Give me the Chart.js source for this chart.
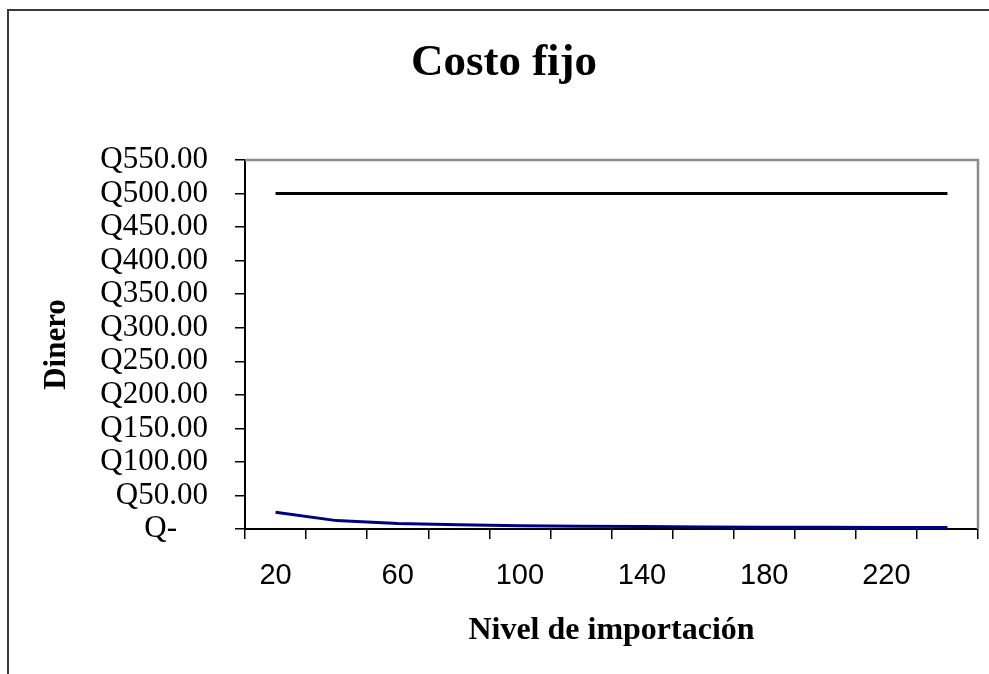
<!DOCTYPE html>
<html>
<head>
<meta charset="utf-8">
<title>Costo fijo</title>
<script src="https://cdn.jsdelivr.net/npm/chart.js@4/dist/chart.umd.min.js"></script>
<style>
  html, body { margin: 0; padding: 0; overflow: hidden; background: #fff; width: 989px; height: 674px; }
  #marco { position: absolute; left: 7px; top: 9px; border-left: 2px solid #3a3a3a; border-top: 2px solid #3a3a3a; }
  canvas { display: block; }
</style>
</head>
<body>
<div id="marco"><canvas id="grafica" width="990" height="680"></canvas></div>
<script>
// Niveles de importación (eje X)
const niveles = [20, 40, 60, 80, 100, 120, 140, 160, 180, 200, 220, 240];
// Costo fijo total
const costoFijo = [500, 500, 500, 500, 500, 500, 500, 500, 500, 500, 500, 500];
// Costo fijo por unidad
const costoFijoUnitario = [25, 12.5, 8.33, 6.25, 5, 4.17, 3.57, 3.13, 2.78, 2.5, 2.27, 2.08];
// Rango del eje de dinero
const dineroMin = 0;
const dineroMax = 550;
const dineroPaso = 50;

const tituloGrafica = 'Costo fijo';
const serif = "'Liberation Serif', 'Times New Roman', serif";
const sans = "'Liberation Sans', Arial, sans-serif";

// Formato contable en quetzales
function formatoQ(v) {
  if (v === 0) return 'Q-\u00A0\u00A0\u00A0\u00A0';
  return 'Q' + v.toFixed(2);
}

// Borde gris del área de trazado (lados superior y derecho)
const bordeArea = {
  id: 'bordeArea',
  beforeDatasetsDraw(chart) {
    const { ctx, chartArea: a } = chart;
    ctx.save();
    ctx.strokeStyle = '#8c8c8c';
    ctx.lineWidth = 2.5;
    ctx.beginPath();
    ctx.moveTo(a.left, a.top);
    ctx.lineTo(a.right, a.top);
    ctx.lineTo(a.right, a.bottom);
    ctx.stroke();
    ctx.restore();
  }
};

// Título centrado sobre todo el lienzo
const tituloCentrado = {
  id: 'tituloCentrado',
  afterDraw(chart) {
    const { ctx, width } = chart;
    ctx.save();
    ctx.fillStyle = '#000';
    ctx.font = 'bold 45px ' + serif;
    ctx.textAlign = 'center';
    ctx.textBaseline = 'alphabetic';
    ctx.fillText(tituloGrafica, width / 2, 64);
    ctx.restore();
  }
};

new Chart(document.getElementById('grafica'), {
  type: 'line',
  data: {
    labels: niveles,
    datasets: [
      {
        label: 'Costo fijo',
        data: costoFijo,
        borderColor: '#000000',
        borderWidth: 3,
        pointRadius: 0,
        tension: 0,
        fill: false
      },
      {
        label: 'Costo fijo unitario',
        data: costoFijoUnitario,
        borderColor: '#000080',
        borderWidth: 3,
        pointRadius: 0,
        tension: 0,
        fill: false
      }
    ]
  },
  options: {
    responsive: false,
    animation: false,
    devicePixelRatio: 1,
    layout: { padding: { top: 149, left: 0, right: 21, bottom: 0 } },
    plugins: {
      legend: { display: false },
      tooltip: { enabled: false },
      title: { display: false }
    },
    scales: {
      x: {
        type: 'category',
        offset: true,
        afterFit(scale) { scale.height = 162; },
        grid: {
          offset: true,
          drawOnChartArea: false,
          drawTicks: true,
          tickLength: 10,
          color: '#000',
          lineWidth: 1.5
        },
        border: { display: true, color: '#000', width: 2 },
        ticks: {
          autoSkip: false,
          maxRotation: 0,
          padding: 20,
          color: '#000',
          font: { family: sans, size: 29 },
          callback(value, index) {
            return index % 2 === 0 ? String(niveles[index]) : '';
          }
        },
        title: {
          display: true,
          text: 'Nivel de importación',
          color: '#000',
          font: { family: serif, size: 32, weight: 'bold', lineHeight: 1.2 },
          padding: { top: 0, bottom: 41 }
        }
      },
      y: {
        min: dineroMin,
        max: dineroMax,
        afterFit(scale) { scale.width = 236; },
        grid: {
          drawOnChartArea: false,
          drawTicks: true,
          tickLength: 10,
          color: '#000',
          lineWidth: 1.5
        },
        border: { display: true, color: '#000', width: 2 },
        ticks: {
          stepSize: dineroPaso,
          autoSkip: false,
          padding: 27,
          color: '#000',
          font: { family: serif, size: 31, lineHeight: 1 },
          callback(value) { return formatoQ(value); }
        },
        title: {
          display: true,
          text: 'Dinero',
          color: '#000',
          font: { family: serif, size: 31, weight: 'bold', lineHeight: 1.2 },
          padding: { top: 29, bottom: 0 }
        }
      }
    }
  },
  plugins: [bordeArea, tituloCentrado]
});
</script>
</body>
</html>
